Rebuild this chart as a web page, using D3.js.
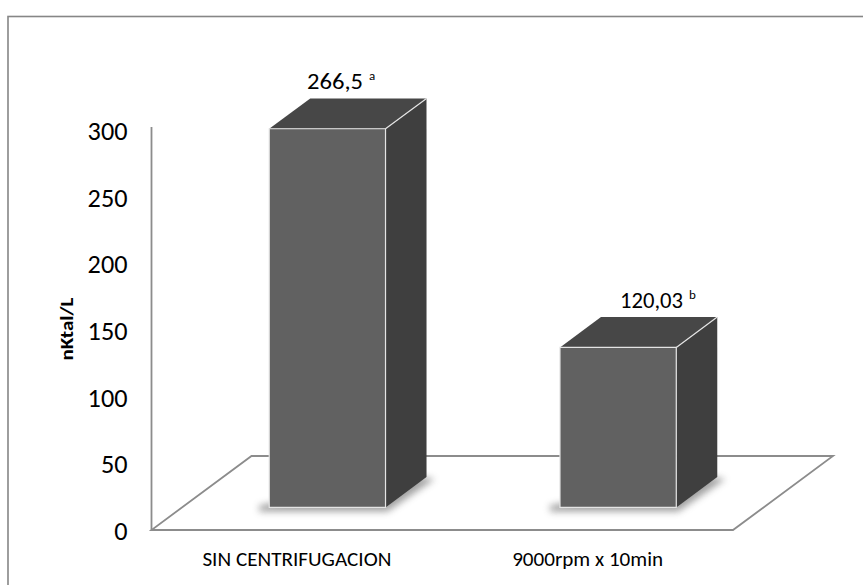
<!DOCTYPE html>
<html>
<head>
<meta charset="utf-8">
<script src="https://cdn.jsdelivr.net/npm/d3@7"></script>
<style>
  html, body { margin: 0; padding: 0; background: #fff; }
  svg { display: block; }
  text { font-family: Carlito, Lato, "Open Sans", sans-serif; fill: #000; }
</style>
</head>
<body>
<svg id="chart" width="863" height="585"></svg>
<script>
// ---- data ----
const categories = ["SIN CENTRIFUGACION", "9000rpm x 10min"];
const values = [284, 120];              // bar heights as drawn
const valueLabels = ["266,5", "120,03"];
const labelLetters = ["a", "b"];
const yTicks = [0, 50, 100, 150, 200, 250, 300];
const yTitle = "nKtal/L";

// ---- layout ----
const W = 863, H = 585;
const svg = d3.select("#chart");
const x0 = 151.5, x1 = 733, yBase = 530, yTop = 130;
const depthX = 100, depthY = 74;       // floor depth projection
const zFront = 0.305, zBack = 0.715;    // bar depth range (fraction of floor depth)
const barFrac = 0.40;

const x = d3.scaleBand().domain(categories).range([x0, x1]).paddingInner(0).paddingOuter(0);
const y = d3.scaleLinear().domain([0, 300]).range([yBase, yTop]);

const P = (px, py, z) => [px + z * depthX, py - z * depthY];

// defs
const defs = svg.append("defs");
const f = defs.append("filter").attr("id", "shadow").attr("x", "-50%").attr("y", "-50%").attr("width", "200%").attr("height", "200%");
f.append("feGaussianBlur").attr("stdDeviation", 3.5);

// chart border
svg.append("rect").attr("x", 8).attr("y", 16.5).attr("width", W).attr("height", H)
  .attr("fill", "none").attr("stroke", "#868686").attr("stroke-width", 1.6);

// floor
const floorPts = [P(x0, yBase, 0), P(x1, yBase, 0), P(x1, yBase, 1), P(x0, yBase, 1)];
svg.append("polygon").attr("points", floorPts.map(p => p.join(",")).join(" "))
  .attr("fill", "#fff").attr("stroke", "#8c8c8c").attr("stroke-width", 1.8).attr("stroke-linejoin", "miter");

// vertical axis line
svg.append("line").attr("x1", x0).attr("x2", x0).attr("y1", y(300) - 3).attr("y2", yBase)
  .attr("stroke", "#8c8c8c").attr("stroke-width", 1.8);

// y ticks labels (d3 axis, no domain/ticks lines)
const yAxis = svg.append("g").attr("transform", `translate(${x0},0)`)
  .call(d3.axisLeft(y).tickValues(yTicks).tickSize(0).tickPadding(24).tickFormat(d3.format("d")));
yAxis.select(".domain").remove();
yAxis.selectAll("text").attr("font-size", 26).attr("font-family", "Carlito, Lato, sans-serif").attr("fill", "#000")
  .attr("dy", "0.36em")
  .attr("textLength", d => String(d).length * 13.3).attr("lengthAdjust", "spacingAndGlyphs");

// y title
svg.append("text").attr("transform", "translate(73,329) rotate(-90)")
  .attr("text-anchor", "middle").attr("font-weight", "bold").attr("font-size", 19)
  .attr("textLength", 63).attr("lengthAdjust", "spacingAndGlyphs").text(yTitle);

// bars
const bars = svg.append("g").selectAll("g").data(categories).join("g");
bars.each(function(c, i) {
  const g = d3.select(this);
  const cx = x(c) + x.bandwidth() / 2;
  const half = x.bandwidth() * barFrac / 2;
  const xl = cx - half, xr = cx + half;
  const yb = y(0), yt = y(values[i]);
  const fbl = P(xl, yb, zFront), fbr = P(xr, yb, zFront), ftl = P(xl, yt, zFront), ftr = P(xr, yt, zFront);
  const bbr = P(xr, yb, zBack), btl = P(xl, yt, zBack), btr = P(xr, yt, zBack);
  // shadow
  g.append("polygon").attr("points", [[fbl[0]-10, fbl[1]+4], [fbr[0]+2, fbr[1]+4], [bbr[0]+8, bbr[1]+2], [bbr[0]-4, bbr[1]], [fbl[0]-10, fbl[1]-2]].map(p => p.join(",")).join(" "))
    .attr("fill", "#555").attr("opacity", 0.55).attr("filter", "url(#shadow)");
  // side face
  g.append("polygon").attr("points", [fbr, bbr, btr, ftr].map(p => p.join(",")).join(" ")).attr("fill", "#3f3f3f");
  // top face
  g.append("polygon").attr("points", [ftl, ftr, btr, btl].map(p => p.join(",")).join(" ")).attr("fill", "#474747");
  // front face
  g.append("polygon").attr("points", [fbl, fbr, ftr, ftl].map(p => p.join(",")).join(" "))
    .attr("fill", "#616161").attr("stroke", "#e4e4e4").attr("stroke-width", 1.2);
  // highlight edge top/side
  g.append("line").attr("x1", ftr[0]).attr("y1", ftr[1]).attr("x2", btr[0]).attr("y2", btr[1])
    .attr("stroke", "#e4e4e4").attr("stroke-width", 1.2);
});

// value labels
const labelX = [307, 620];
const labelW = [56, 63];
valueLabels.forEach((lab, i) => {
  const cx = x(categories[i]) + x.bandwidth() / 2;
  const half = x.bandwidth() * barFrac / 2;
  const btl = P(cx - half, y(values[i]), zBack);
  const t = svg.append("text").attr("x", labelX[i]).attr("y", btl[1] - 9).attr("font-size", 22);
  t.append("tspan").attr("textLength", labelW[i]).attr("lengthAdjust", "spacingAndGlyphs").text(lab);
  t.append("tspan").attr("font-size", 13).attr("dx", 6).attr("dy", -9).text(labelLetters[i]);
});

// category labels
const catW = [189, 151];
svg.append("g").selectAll("text").data(categories).join("text")
  .attr("x", d => x(d) + x.bandwidth() / 2).attr("y", 566)
  .attr("text-anchor", "middle").attr("font-size", 20)
  .attr("textLength", (d, i) => catW[i]).attr("lengthAdjust", "spacingAndGlyphs")
  .text(d => d);
</script>
</body>
</html>
